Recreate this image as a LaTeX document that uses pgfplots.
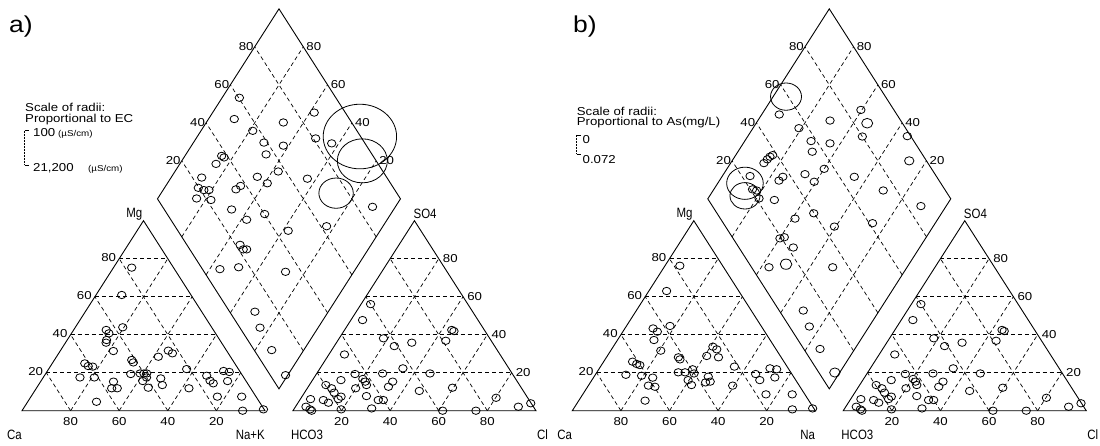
\documentclass[border=0pt]{standalone}
\usepackage{pgfplots}
\pgfplotsset{compat=1.18}
\usepackage{pgfplotstable}
\usepackage{fontspec}
\setmainfont{Liberation Sans}
\newfontfamily\lbl{Liberation Sans}[FakeStretch=1.15]
\newfontfamily\cnr{Liberation Sans}[FakeStretch=0.85]

% ---------------- panel a ----------------
% cations (% meq): Mg, Na+K
\pgfplotstableread{
mg   nak
75.3 7.5
60.9 10.6
43.9 19.5
42.5 13.4
40.7 15.4
37.2 16.2
35.8 16.7
31.4 21.9
24.9 13.4
23.5 15.5
23.2 17.5
17.5 15.1
17.5 21.0
26.7 31.8
25.4 33.1
19.3 35.1
19.6 38.8
19.6 40.4
19.6 41.5
15.6 41.9
17.5 42.5
17.0 48.6
13.5 51.0
28.4 41.9
31.6 44.4
30.2 46.8
15.3 30.0
11.8 31.0
11.8 33.3
12.1 45.9
4.7  28.3
21.9 56.8
11.8 62.8
18.4 66.8
15.8 69.5
14.4 71.5
20.9 72.5
20.4 75.1
15.6 76.8
7.4  76.7
7.4  86.7
0.0  90.8
0.7  99.0
}\catA

% anions (% meq): SO4, Cl  (same samples in both panels)
\pgfplotstableread{
so4  cl
56.1 3.9
47.7 4.8
38.1 18.2
34.0 24.7
35.8 31.0
36.8 44.5
42.5 44.1
41.9 45.3
29.6 6.4
19.3 15.9
16.7 20.4
15.3 22.1
13.5 23.5
16.1 11.7
19.6 27.1
22.3 34.1
19.6 46.6
15.3 33.4
12.6 33.0
11.8 19.9
7.7  26.4
5.6  32.3
5.6  34.4
10.4 46.8
12.1 59.6
6.8  80.2
13.5 6.8
11.8 10.0
9.5  12.2
7.4  16.1
6.1  15.6
5.6  9.7
4.2  12.5
6.1  4.2
2.1  4.3
0.7  6.7
0.0  7.7
0.7  19.5
1.2  31.8
0.0  61.6
0.0  75.3
2.1  91.7
3.9  95.9
}\anion

% diamond, panel a: Ca+Mg, SO4+Cl, radius (scaled by EC)
\pgfplotstableread{
camg so4cl r
92.9 60.3 4.2
89.4 52.6 4.2
78.7 57.1 4.2
71.0 58.6 4.2
68.3 71.9 4.2
62.2 65.8 4.2
67.0 56.4 4.2
58.2 87.2 4.2
50.8 81.0 4.2
42.9 86.3 4.2
84.9 37.7 4.2
83.5 38.3 4.2
85.1 33.3 4.2
87.4 23.8 4.2
86.1 19.7 4.2
83.2 21.4 4.2
81.1 23.5 4.2
84.0 16.2 4.2
77.7 21.7 4.2
64.7 46.9 4.2
58.9 49.3 4.2
57.5 56.9 4.2
43.6 67.0 4.2
70.2 34.8 4.2
69.2 37.6 4.2
66.7 27.7 4.2
57.8 31.2 4.2
51.9 40.1 4.2
37.8 45.4 4.2
23.2 62.4 4.2
9.4  86.4 4.2
53.9 21.9 4.2
51.4 22.0 4.2
50.0 23.4 4.2
55.8 7.2  4.2
48.6 15.4 4.2
28.1 33.5 4.2
30.2 10.4 4.2
23.9 8.3  4.2
13.2 7.2  4.2
0.9  6.3  4.2
33.1 99.7 36.7
25.7 94.3 25.0
28.0 75.0 17.2
}\diaA

% ---------------- panel b ----------------
\pgfplotstableread{
mg   nak
76.3 6.1
63.0 7.3
44.6 17.9
43.3 11.6
41.6 14.2
37.2 15.0
31.6 20.6
25.8 11.9
24.6 14.2
24.0 15.8
18.9 12.6
18.4 19.3
17.4 24.4
13.2 24.7
12.6 27.7
5.3  27.3
28.1 29.6
27.0 30.8
20.2 33.5
20.2 36.3
21.8 38.6
19.6 40.3
16.1 39.6
13.5 42.3
28.8 40.9
33.7 41.0
32.3 43.3
28.1 46.1
17.9 47.0
15.3 49.1
14.9 47.4
23.2 55.1
13.2 59.4
19.3 65.8
16.1 69.1
22.3 70.2
21.8 73.2
17.5 74.6
8.6  75.4
8.6  86.2
0.7  90.2
1.2  98.3
}\catB

% diamond, panel b: Ca+Mg, SO4+Cl, radius (scaled by As)
\pgfplotstableread{
camg so4cl r
92.8 51.6 4.2
70.3 70.9 4.2
54.3 85.5 5.5
60.4 86.4 4.2
52.8 80.0 4.2
81.1 56.1 4.2
72.7 57.7 4.2
64.3 64.9 4.2
69.4 55.4 4.2
34.4 98.6 4.2
27.1 92.9 4.7
85.5 36.7 4.2
84.8 38.2 4.2
85.9 34.9 4.2
86.3 32.5 4.2
88.6 23.4 4.2
84.1 20.9 4.2
82.1 22.3 4.2
79.0 21.2 4.2
72.3 27.1 4.2
75.5 34.1 4.2
74.9 36.7 4.2
66.5 46.5 4.2
60.7 48.3 4.2
60.0 55.8 4.2
45.5 66.1 4.2
30.0 74.4 4.2
10.4 85.8 4.2
58.9 30.7 4.2
52.6 39.8 4.2
40.6 44.8 4.2
25.8 61.4 4.2
59.9 19.3 4.2
58.4 21.4 4.2
52.0 22.4 4.2
56.8 7.2  4.2
50.6 15.0 5.8
30.6 33.4 4.2
31.3 9.9  4.2
24.6 8.2  4.2
14.3 6.7  4.2
2.0  6.6  5.2
94.7 59.1 15.5
88.8 19.4 18.3
85.5 16.1 15.0
}\diaB

\tikzset{
  pframe/.style={line width=0.9pt},
  pgrid/.style={line width=0.7pt, dash pattern=on 4pt off 3pt},
  plab/.style={font=\lbl\fontsize{11.5}{12}\selectfont, inner sep=0pt},
  pcorner/.style={font=\cnr\fontsize{13.5}{14}\selectfont, inner sep=0pt},
  ltext/.style={font=\lbl\fontsize{11.5}{12}\selectfont, inner sep=0pt, anchor=base west},
  lunit/.style={font=\lbl\fontsize{8.5}{9}\selectfont, inner sep=0pt, anchor=base west},
}
\pgfplotsset{
  piper/.style={hide axis, scale only axis, width=550pt, height=445pt,
    ymin=-18.053, ymax=216.158, clip=false},
  pts/.style={only marks, mark=o, black, mark size=4.2, line width=0.8pt,
    mark options={yscale=0.88}},
  szpts/.style={scatter, only marks, mark=o, line width=0.8pt,
    scatter/use mapped color={draw=black, fill=none},
    visualization depends on={\thisrow{r}\as\rad},
    scatter/@pre marker code/.append style={/tikz/mark size=\rad},
    mark options={yscale=0.88}},
}

% outlines, grid, scale numbers and corner names of a Piper diagram
% (side of a triangle = 100 x-units, its height = 100 y-units, gap = 11.5)
\newcommand\piperframe[1]{%
  \draw[pframe] (axis cs:0,0) -- (axis cs:100,0) -- (axis cs:50,100) -- cycle;
  \draw[pframe] (axis cs:111.5,0) -- (axis cs:211.5,0) -- (axis cs:161.5,100) -- cycle;
  \draw[pframe] (axis cs:105.75,11.5) -- (axis cs:155.75,111.5)
     -- (axis cs:105.75,211.5) -- (axis cs:55.75,111.5) -- cycle;
  \pgfplotsinvokeforeach{20,40,60,80}{%
    \draw[pgrid] (axis cs:{##1/2},##1) -- (axis cs:{100-##1/2},##1);
    \draw[pgrid] (axis cs:##1,0) -- (axis cs:{50+##1/2},{100-##1});
    \draw[pgrid] (axis cs:{100-##1},0) -- (axis cs:{50-##1/2},{100-##1});
    \draw[pgrid] (axis cs:{111.5+##1/2},##1) -- (axis cs:{211.5-##1/2},##1);
    \draw[pgrid] (axis cs:{111.5+##1},0) -- (axis cs:{161.5+##1/2},{100-##1});
    \draw[pgrid] (axis cs:{211.5-##1},0) -- (axis cs:{161.5-##1/2},{100-##1});
    \draw[pgrid] (axis cs:{105.75-##1/2},{11.5+##1}) -- (axis cs:{155.75-##1/2},{111.5+##1});
    \draw[pgrid] (axis cs:{105.75+##1/2},{11.5+##1}) -- (axis cs:{55.75+##1/2},{111.5+##1});
    \node[plab, anchor=east, xshift=-3pt, yshift=1pt] at (axis cs:{##1/2},##1) {##1};
    \node[plab, anchor=north, yshift=-7pt] at (axis cs:##1,0) {\pgfmathparse{int(100-##1)}\pgfmathresult};
    \node[plab, anchor=north, yshift=-7pt] at (axis cs:{111.5+##1},0) {##1};
    \node[plab, anchor=west, xshift=4pt] at (axis cs:{211.5-##1/2},##1) {##1};
    \node[plab, anchor=east, xshift=-1pt] at (axis cs:{55.75+##1/2},{111.5+##1}) {##1};
    \node[plab, anchor=west, xshift=3pt] at (axis cs:{155.75-##1/2},{111.5+##1}) {##1};
  }
  \node[pcorner, anchor=north east, yshift=-19pt] at (axis cs:0,0) {Ca};
  \node[pcorner, anchor=north east, yshift=-19pt] at (axis cs:100,0) {#1};
  \node[pcorner, anchor=north west, xshift=-2pt, yshift=-19pt] at (axis cs:111.5,0) {HCO3};
  \node[pcorner, anchor=north west, xshift=1pt, yshift=-19pt] at (axis cs:211.5,0) {Cl};
  \node[pcorner, anchor=south east, xshift=-1pt] at (axis cs:50,100) {Mg};
  \node[pcorner, anchor=south west, xshift=-1pt, yshift=2pt] at (axis cs:161.5,100) {SO4};
}

\begin{document}
\begin{tikzpicture}
\useasboundingbox (0pt,0pt) rectangle (1100pt,445pt);

% ---------- a) radii proportional to EC ----------
\begin{axis}[piper, at={(0pt,0pt)}, anchor=south west, xmin=-9.0535, xmax=217.284]
  \piperframe{Na+K}
  \addplot[pts] table[x expr={\thisrow{nak}+0.5*\thisrow{mg}}, y=mg] {\catA};
  \addplot[pts] table[x expr={111.5+\thisrow{cl}+0.5*\thisrow{so4}}, y=so4] {\anion};
  \addplot[szpts] table[x expr={105.75-0.5*\thisrow{camg}+0.5*\thisrow{so4cl}},
     y expr={11.5+\thisrow{camg}+\thisrow{so4cl}}, meta=r] {\diaA};
\end{axis}

% ---------- b) radii proportional to As ----------
\begin{axis}[piper, at={(550pt,0pt)}, anchor=south west, xmin=-9.177, xmax=217.16]
  \piperframe{Na}
  \addplot[pts] table[x expr={\thisrow{nak}+0.5*\thisrow{mg}}, y=mg] {\catB};
  \addplot[pts] table[x expr={111.5+\thisrow{cl}+0.5*\thisrow{so4}}, y=so4] {\anion};
  \addplot[szpts] table[x expr={105.75-0.5*\thisrow{camg}+0.5*\thisrow{so4cl}},
     y expr={11.5+\thisrow{camg}+\thisrow{so4cl}}, meta=r] {\diaB};
\end{axis}

% panel letters and radius scales
\node[inner sep=0pt, anchor=base west, font=\lbl\fontsize{23}{23}\selectfont] at (9pt,412pt) {a)};
\node[ltext] at (25pt,333pt) {Scale of radii:};
\node[ltext] at (25pt,322.8pt) {Proportional to EC};
\draw[line width=0.6pt] (28.5pt,314.3pt) -- (24.5pt,314.3pt);
\draw[line width=0.5pt, densely dotted] (24.5pt,314.3pt) -- (24.5pt,280pt);
\draw[line width=0.6pt] (24.5pt,280pt) -- (29pt,280pt);
\node[ltext] at (33pt,308pt) {100};
\node[lunit] at (58pt,308pt) {(µS/cm)};
\node[ltext] at (33pt,273pt) {21,200};
\node[lunit] at (88pt,273pt) {(µS/cm)};

\node[inner sep=0pt, anchor=base west, font=\lbl\fontsize{23}{23}\selectfont] at (573pt,412pt) {b)};
\node[ltext] at (576.7pt,329.5pt) {Scale of radii:};
\node[ltext] at (576.7pt,319pt) {Proportional to As(mg/L)};
\draw[line width=0.6pt] (581pt,310pt) -- (576.5pt,310pt);
\draw[line width=0.5pt, densely dotted] (576.5pt,310pt) -- (576.5pt,291pt);
\draw[line width=0.6pt] (576.5pt,291pt) -- (581pt,291pt);
\node[ltext] at (582.5pt,301.7pt) {0};
\node[ltext] at (582.5pt,281.7pt) {0.072};
\end{tikzpicture}
\end{document}
